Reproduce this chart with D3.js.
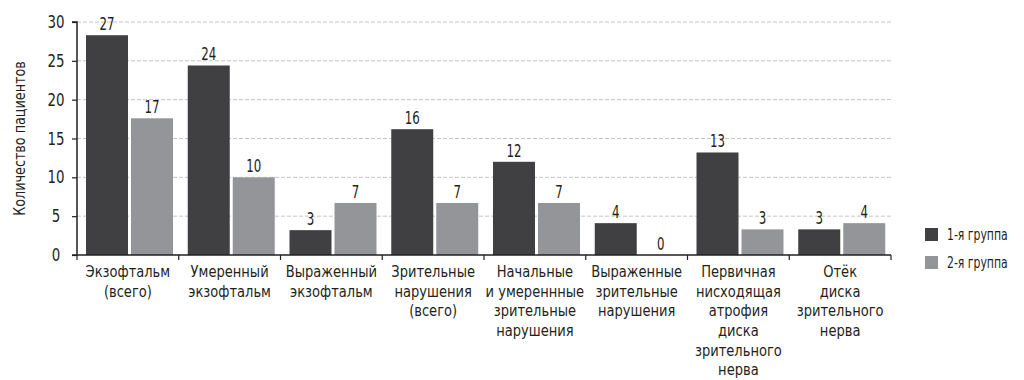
<!DOCTYPE html>
<html><head><meta charset="utf-8">
<script src="https://cdn.jsdelivr.net/npm/d3@7"></script>
<style>
body{margin:0;background:#fff;}
svg text{font-family:"Liberation Sans Narrow","DejaVu Sans Condensed",sans-serif;fill:#231f20;}
</style></head>
<body><svg id="c" width="1024" height="380"></svg>
<script>
const categories = [
  "Экзофтальм\n(всего)",
  "Умеренный\nэкзофтальм",
  "Выраженный\nэкзофтальм",
  "Зрительные\nнарушения\n(всего)",
  "Начальные\nи умереннные\nзрительные\nнарушения",
  "Выраженные\nзрительные\nнарушения",
  "Первичная\nнисходящая\nатрофия\nдиска\nзрительного\nнерва",
  "Отёк\nдиска\nзрительного\nнерва"
];
const seriesNames = ["1-я группа", "2-я группа"];
// value labels printed above bars
const group1 = [27, 24, 3, 16, 12, 4, 13, 3];
const group2 = [17, 10, 7, 7, 7, 0, 3, 4];
// bar heights as drawn in the picture
const group1Heights = [28.3, 24.4, 3.2, 16.2, 12.0, 4.1, 13.2, 3.3];
const group2Heights = [17.6, 10.0, 6.7, 6.7, 6.7, 0, 3.3, 4.1];
const yTicks = [0, 5, 10, 15, 20, 25, 30];
const colors = ["#404042", "#939598"];

(function () {
const svg = d3.select("#c");
const mLeft = 77, mRight = 891, mTop = 22, mBottom = 255;

const x0 = d3.scaleBand().domain(categories).range([mLeft, mRight]).padding(0);
const x1 = d3.scaleBand().domain([0, 1]).range([9, 96]).paddingInner(0.067).paddingOuter(0);
const y = d3.scaleLinear().domain([0, 30]).range([mBottom, mTop]);

// gridlines
svg.append("g").selectAll("line").data(yTicks.filter(d => d > 0)).join("line")
  .attr("x1", mLeft).attr("x2", 893)
  .attr("y1", d => y(d)).attr("y2", d => y(d))
  .attr("stroke", "#c4c4c4").attr("stroke-width", 1).attr("stroke-dasharray", "4,2");

// bars
const rows = categories.map((c, i) => ({c, vals: [
  {s: 0, h: group1Heights[i], v: group1[i]},
  {s: 1, h: group2Heights[i], v: group2[i]}]}));
const g = svg.append("g").selectAll("g").data(rows).join("g")
  .attr("transform", d => `translate(${x0(d.c)},0)`);
g.selectAll("rect").data(d => d.vals).join("rect")
  .attr("x", d => x1(d.s)).attr("width", x1.bandwidth())
  .attr("y", d => y(d.h)).attr("height", d => y(0) - y(d.h))
  .attr("fill", d => colors[d.s]);
g.selectAll("text").data(d => d.vals).join("text")
  .attr("transform", d => `translate(${x1(d.s) + x1.bandwidth() / 2},${y(d.h) - 5}) scale(0.75,1)`)
  .attr("text-anchor", "middle").attr("font-size", 17.5)
  .text(d => d.v);

// y axis
const yAxis = svg.append("g").attr("transform", `translate(${mLeft},0)`)
  .call(d3.axisLeft(y).tickValues(yTicks).tickSize(5).tickPadding(12));
yAxis.select(".domain").attr("stroke", "#231f20").attr("stroke-width", 1.5).attr("d", `M-5,${y(30)}H0V${mBottom}`);
yAxis.selectAll(".tick line").attr("stroke", "#231f20").attr("stroke-width", 1.2);
yAxis.selectAll(".tick text").attr("font-size", 17.5).attr("text-anchor", "middle").attr("x", 0)
  .attr("transform", "translate(-21,0) scale(0.85,1)")
  .style("font-family", '"Liberation Sans Narrow","DejaVu Sans Condensed",sans-serif').attr("fill", "#231f20");

// x axis baseline and boundary ticks
svg.append("line").attr("x1", mLeft - 5).attr("x2", mRight).attr("y1", mBottom).attr("y2", mBottom)
  .attr("stroke", "#231f20").attr("stroke-width", 1.5);
const bounds = categories.map(c => x0(c)).concat([mRight]);
svg.append("g").selectAll("line").data(bounds).join("line")
  .attr("x1", d => d).attr("x2", d => d).attr("y1", mBottom).attr("y2", mBottom + 5)
  .attr("stroke", "#231f20").attr("stroke-width", 1.2);

// category labels
const lab = svg.append("g").selectAll("text").data(categories).join("text")
  .attr("text-anchor", "middle").attr("font-size", 16.5)
  .attr("transform", d => `translate(${x0(d) + x0.bandwidth() / 2},${mBottom + 22}) scale(0.88,1)`);
lab.selectAll("tspan").data(d => d.split("\n")).join("tspan")
  .attr("x", 0).attr("y", (d, i) => i * 19.7).text(d => d);

// y title
svg.append("text").attr("transform", `translate(25,${(mTop + mBottom) / 2}) rotate(-90) scale(0.86,1)`)
  .attr("text-anchor", "middle").attr("font-size", 16.5).text("Количество пациентов");

// legend
const leg = svg.append("g").selectAll("g").data(seriesNames).join("g")
  .attr("transform", (d, i) => `translate(925,${228 + i * 28})`);
leg.append("rect").attr("width", 13).attr("height", 13).attr("fill", (d, i) => colors[i]);
leg.append("text").attr("transform", "translate(22,12) scale(0.78,1)").attr("font-size", 15.5).text(d => d);
})();
</script></body></html>
